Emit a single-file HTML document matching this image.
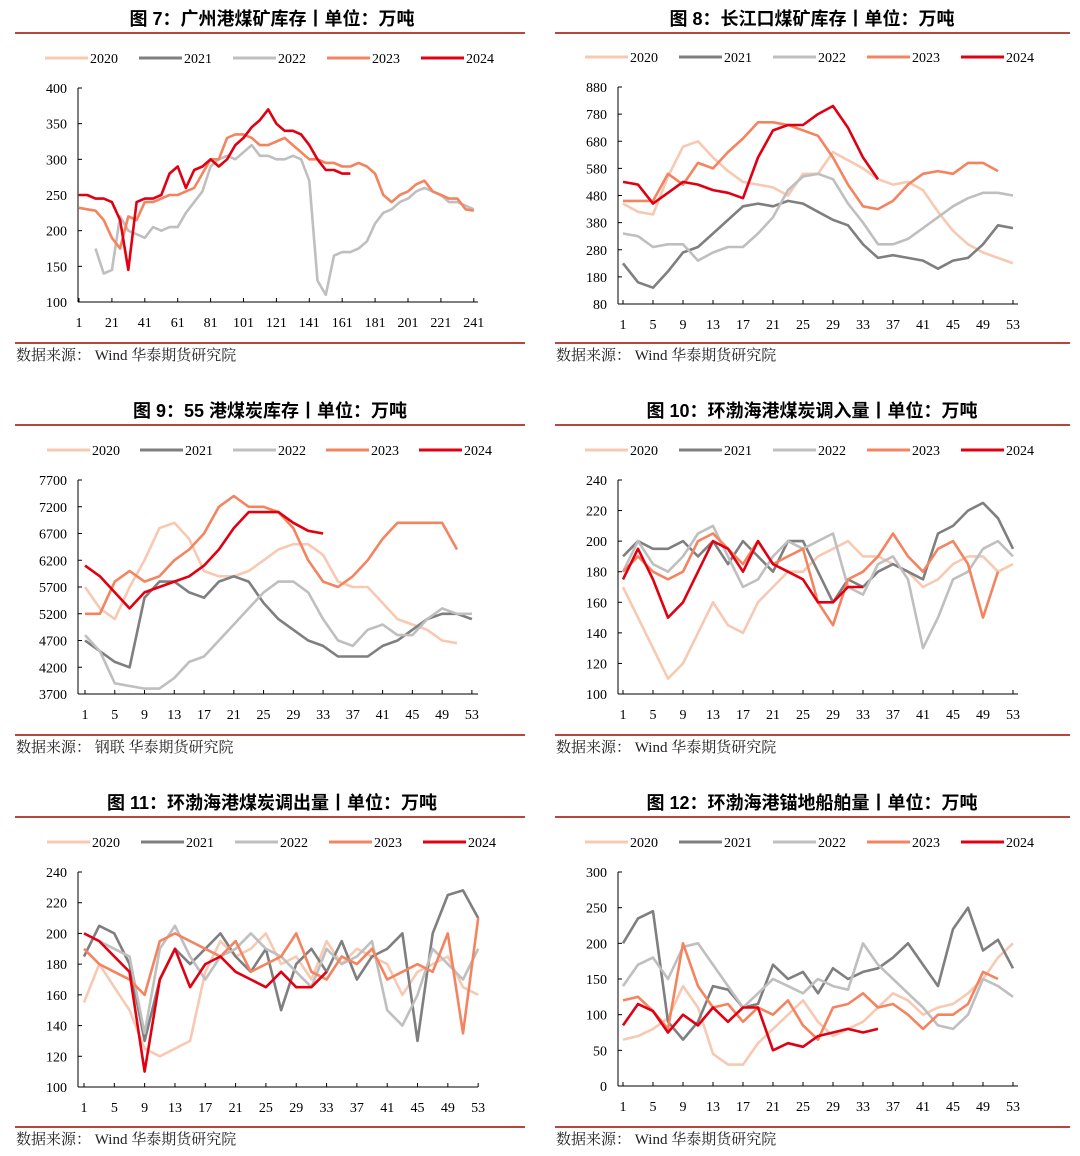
<!DOCTYPE html>
<html><head><meta charset="utf-8">
<style>
html,body{margin:0;padding:0;background:#fff;}
svg{display:block;}
.t{font-family:"Liberation Sans","Noto Sans CJK SC",sans-serif;font-weight:bold;font-size:18px;fill:#000;}
.n{font-family:"Liberation Serif","Noto Serif CJK SC",serif;font-size:14px;fill:#000;}
.s{font-family:"Liberation Serif","Noto Serif CJK SC",serif;font-size:15px;fill:#222;}
</style></head>
<body>
<svg id="root" width="1080" height="1156" viewBox="0 0 1080 1156" xmlns="http://www.w3.org/2000/svg"></svg>
<script>
// ---- data ----
const seriesNames = ["2020","2021","2022","2023","2024"];
const seriesColors = ["#F8C9B2","#7F7F7F","#BFBFBF","#F4845F","#E00012"];
const weeks = [1,3,5,7,9,11,13,15,17,19,21,23,25,27,29,31,33,35,37,39,41,43,45,47,49,51,53];
const days = [1,6,11,16,21,26,31,36,41,46,51,56,61,66,71,76,81,86,91,96,101,106,111,116,121,126,131,136,141,146,151,156,161,166,171,176,181,186,191,196,201,206,211,216,221,226,231,236,241];

// chart 1 广州港 (daily)
const gz2020 = [];
const gz2021 = [];
const gz2022 = [null,null,175,140,145,220,200,195,190,205,200,205,205,225,240,255,290,300,305,300,310,320,305,305,300,300,305,300,270,130,110,165,170,170,175,185,210,225,230,240,245,255,260,255,250,240,240,235,230];
const gz2023 = [232,230,228,215,190,175,220,215,240,240,245,250,250,255,260,280,300,300,330,335,335,330,320,320,325,330,320,310,300,300,295,295,290,290,295,290,280,250,240,250,255,265,270,255,250,245,245,230,228];
const gz2024 = [250,250,245,245,240,215,145,240,245,245,250,280,290,260,285,290,300,290,300,320,330,345,355,370,350,340,340,335,320,300,285,285,280,280,null,null,null,null,null,null,null,null,null,null,null,null,null,null,null];

// chart 2 长江口
const cj2020 = [450,420,410,550,660,680,620,570,530,520,510,480,560,560,640,610,580,540,520,530,500,420,350,300,270,250,230];
const cj2021 = [230,160,140,200,270,290,340,390,440,450,440,460,450,420,390,370,300,250,260,250,240,210,240,250,300,370,360];
const cj2022 = [340,330,290,300,300,240,270,290,290,340,400,500,550,560,540,450,380,300,300,320,360,400,440,470,490,490,480];
const cj2023 = [460,460,460,560,520,600,580,640,690,750,750,740,720,700,620,520,440,430,460,520,560,570,560,600,600,570,null];
const cj2024 = [530,520,450,490,530,520,500,490,470,620,720,740,740,780,810,730,620,540,null,null,null,null,null,null,null,null,null];

// chart 3 55港
const p55_2020 = [5700,5300,5100,5700,6200,6800,6900,6600,6000,5900,5900,6000,6200,6400,6500,6500,6300,5800,5700,5700,5400,5100,5000,4900,4700,4650,null];
const p55_2021 = [4700,4500,4300,4200,5500,5800,5800,5600,5500,5800,5900,5800,5400,5100,4900,4700,4600,4400,4400,4400,4600,4700,4900,5100,5200,5200,5100];
const p55_2022 = [4800,4500,3900,3850,3800,3800,4000,4300,4400,4700,5000,5300,5600,5800,5800,5600,5100,4700,4600,4900,5000,4800,4800,5100,5300,5200,5200];
const p55_2023 = [5200,5200,5800,6000,5800,5900,6200,6400,6700,7200,7400,7200,7200,7100,6800,6200,5800,5700,5900,6200,6600,6900,6900,6900,6900,6400,null];
const p55_2024 = [6100,5900,5600,5300,5600,5700,5800,5900,6100,6400,6800,7100,7100,7100,6900,6750,6700,null,null,null,null,null,null,null,null,null,null];

// chart 4 调入量
const in2020 = [170,150,130,110,120,140,160,145,140,160,170,180,180,190,195,200,190,190,185,180,170,175,185,190,190,180,185];
const in2021 = [190,200,195,195,200,190,200,185,200,190,180,200,200,180,160,175,170,180,185,180,175,205,210,220,225,215,195];
const in2022 = [180,200,185,180,190,205,210,190,170,175,190,200,195,200,205,170,165,185,190,175,130,150,175,180,195,200,190];
const in2023 = [180,190,180,175,180,200,205,195,185,200,185,190,195,160,145,175,180,190,205,190,180,195,200,185,150,180,null];
const in2024 = [175,195,175,150,160,180,200,195,180,200,185,180,175,160,160,170,170,null,null,null,null,null,null,null,null,null,null];

// chart 5 调出量
const out2020 = [155,180,165,150,125,120,125,130,175,195,185,190,200,180,185,170,195,180,190,185,180,160,175,180,185,165,160];
const out2021 = [185,205,200,180,130,170,190,180,190,200,185,175,190,150,180,190,175,195,170,185,190,200,130,200,225,228,210];
const out2022 = [200,195,190,185,135,190,205,185,170,185,190,200,190,185,175,165,190,180,185,195,150,140,160,190,180,170,190];
const out2023 = [190,180,175,170,160,195,200,195,190,185,195,175,180,185,200,175,170,185,180,190,170,175,180,175,200,135,210];
const out2024 = [200,195,185,175,110,170,190,165,180,185,175,170,165,175,165,165,175,null,null,null,null,null,null,null,null,null,null];

// chart 6 锚地船舶
const sh2020 = [65,70,80,95,140,110,45,30,30,60,80,100,120,90,70,80,90,110,130,120,100,110,115,130,150,180,200];
const sh2021 = [200,235,245,90,65,90,140,135,110,115,170,150,160,130,165,150,160,165,180,200,170,140,220,250,190,205,165];
const sh2022 = [140,170,180,150,195,200,170,140,110,130,150,140,130,150,140,135,200,170,150,130,110,85,80,100,150,140,125];
const sh2023 = [120,125,105,80,200,140,110,115,90,110,100,120,85,65,110,115,130,110,115,100,80,100,100,115,160,150,null];
const sh2024 = [85,115,105,75,100,85,110,90,110,110,50,60,55,70,75,80,75,80,null,null,null,null,null,null,null,null,null];

const dayTicks = [1,21,41,61,81,101,121,141,161,181,201,221,241];
const weekTicks = [1,5,9,13,17,21,25,29,33,37,41,45,49,53];

// ---- drawing ----
const NS = "http://www.w3.org/2000/svg";
const root = document.getElementById('root');
function mk(tag, attrs, parent){
  const e = document.createElementNS(NS, tag);
  for (const k in attrs) e.setAttribute(k, attrs[k]);
  (parent||root).appendChild(e);
  return e;
}

function drawChart(cfg){
  const g = mk('g', {});
  
  
  const px = cfg.px, py = cfg.py;
  const rEnd = px + cfg.ruleW;
  const t = mk('text', {x: cfg.tx, y: py+25, 'text-anchor':'middle', class:'t'}, g);
  t.textContent = cfg.title;
  
  
  const l1 = mk('line', {x1:px+15, x2:rEnd, y1:py+33, y2:py+33, stroke:'#B5473F', 'stroke-width':2}, g);
  
  
  const l2 = mk('line', {x1:px+15, x2:rEnd, y1:py+343, y2:py+343, stroke:'#B5473F', 'stroke-width':2}, g);
  
  
  const src = mk('text', {x:px+16, y:py+360, class:'s'}, g);
  src.textContent = cfg.source;
  
  
  const lg = mk('g', {}, g);
  
  
  for (let i=0;i<5;i++){
    const lx = px + cfg.legX + i*cfg.legStep;
    const ly = py + cfg.legY;
    const e = mk('g', {}, lg);
    
    
    mk('line', {x1:lx, x2:lx+43, y1:ly, y2:ly, stroke:seriesColors[i], 'stroke-width':3}, e);
    const tt = mk('text', {x:lx+45, y:ly+5, class:'n'}, e);
    tt.textContent = seriesNames[i];
  }
  const L=cfg.L,R=cfg.R,T=cfg.T,B=cfg.B;
  const ys = v => B - (v-cfg.ymin)/(cfg.ymax-cfg.ymin)*(B-T);
  const xs = cfg.xs;
  const ax = mk('g', {}, g);
  
  
  mk('line', {x1:L, x2:L, y1:T, y2:B, stroke:'#000', 'stroke-width':1}, ax);
  mk('line', {x1:L, x2:R, y1:B, y2:B, stroke:'#000', 'stroke-width':1}, ax);
  for (let v=cfg.ymin; v<=cfg.ymax+1e-9; v+=cfg.ystep){
    const y = ys(v);
    mk('line', {x1:L, x2:L+4, y1:y, y2:y, stroke:'#000'}, ax);
    const tt = mk('text', {x:L-11, y:y+5, 'text-anchor':'end', class:'n'}, ax);
    tt.textContent = String(v);
  }
  cfg.xticks.forEach(v=>{
    const x = xs(v);
    mk('line', {x1:x, x2:x, y1:B, y2:B-4, stroke:'#000'}, ax);
    const tt = mk('text', {x:x, y:B+25, 'text-anchor':'middle', class:'n'}, ax);
    tt.textContent = String(v);
  });
  cfg.series.forEach((arr,i)=>{
    let d = '', pen = false;
    arr.forEach((v,j)=>{
      if (v===null || v===undefined){ pen=false; return; }
      d += (pen?'L':'M') + xs(cfg.xv[j]).toFixed(1) + ',' + ys(v).toFixed(1);
      pen = true;
    });
    if (!d) return;
    const p = mk('path', {d:d, fill:'none', stroke:seriesColors[i], 'stroke-width':2.6, 'stroke-linejoin':'round'}, g);
    
    
  });
}

const wL = w => 85 + (w-1)*7.44;
const wR = w => 623 + (w-1)*7.5;
const SRC = "数据来源：  Wind 华泰期货研究院";

drawChart({name:'chart-guangzhou-port-stock', px:0, py:0, ruleW:525, tx:272, title:'图 7：广州港煤矿库存丨单位：万吨', source:SRC,
  legX:45, legStep:94, legY:58, L:78,R:478,T:88,B:302, ymin:100,ymax:400,ystep:50,
  xs:d=>79+(d-1)*1.645, xticks:dayTicks, xv:days, series:[gz2020,gz2021,gz2022,gz2023,gz2024]});
drawChart({name:'chart-yangtze-mouth-stock', px:540, py:0, ruleW:530, tx:812, title:'图 8：长江口煤矿库存丨单位：万吨', source:SRC,
  legX:45, legStep:94, legY:57, L:618,R:1018,T:87,B:304, ymin:80,ymax:880,ystep:100,
  xs:wR, xticks:weekTicks, xv:weeks, series:[cj2020,cj2021,cj2022,cj2023,cj2024]});
drawChart({name:'chart-55-ports-stock', px:0, py:392, ruleW:525, tx:270, title:'图 9：55 港煤炭库存丨单位：万吨', source:"数据来源：  钢联 华泰期货研究院",
  legX:47, legStep:93, legY:58, L:78,R:478,T:480,B:694, ymin:3700,ymax:7700,ystep:500,
  xs:wL, xticks:weekTicks, xv:weeks, series:[p55_2020,p55_2021,p55_2022,p55_2023,p55_2024]});
drawChart({name:'chart-bohai-inflow', px:540, py:392, ruleW:530, tx:812, title:'图 10：环渤海港煤炭调入量丨单位：万吨', source:SRC,
  legX:45, legStep:94, legY:58, L:618,R:1018,T:480,B:694, ymin:100,ymax:240,ystep:20,
  xs:wR, xticks:weekTicks, xv:weeks, series:[in2020,in2021,in2022,in2023,in2024]});
drawChart({name:'chart-bohai-outflow', px:0, py:784, ruleW:525, tx:272, title:'图 11：环渤海港煤炭调出量丨单位：万吨', source:SRC,
  legX:47, legStep:94, legY:58, L:78,R:478,T:872,B:1087, ymin:100,ymax:240,ystep:20,
  xs:w=>84+(w-1)*7.58, xticks:weekTicks, xv:weeks, series:[out2020,out2021,out2022,out2023,out2024]});
drawChart({name:'chart-bohai-anchored-ships', px:540, py:784, ruleW:530, tx:812, title:'图 12：环渤海港锚地船舶量丨单位：万吨', source:SRC,
  legX:45, legStep:94, legY:58, L:618,R:1018,T:872,B:1086, ymin:0,ymax:300,ystep:50,
  xs:wR, xticks:weekTicks, xv:weeks, series:[sh2020,sh2021,sh2022,sh2023,sh2024]});
</script>
</body></html>
